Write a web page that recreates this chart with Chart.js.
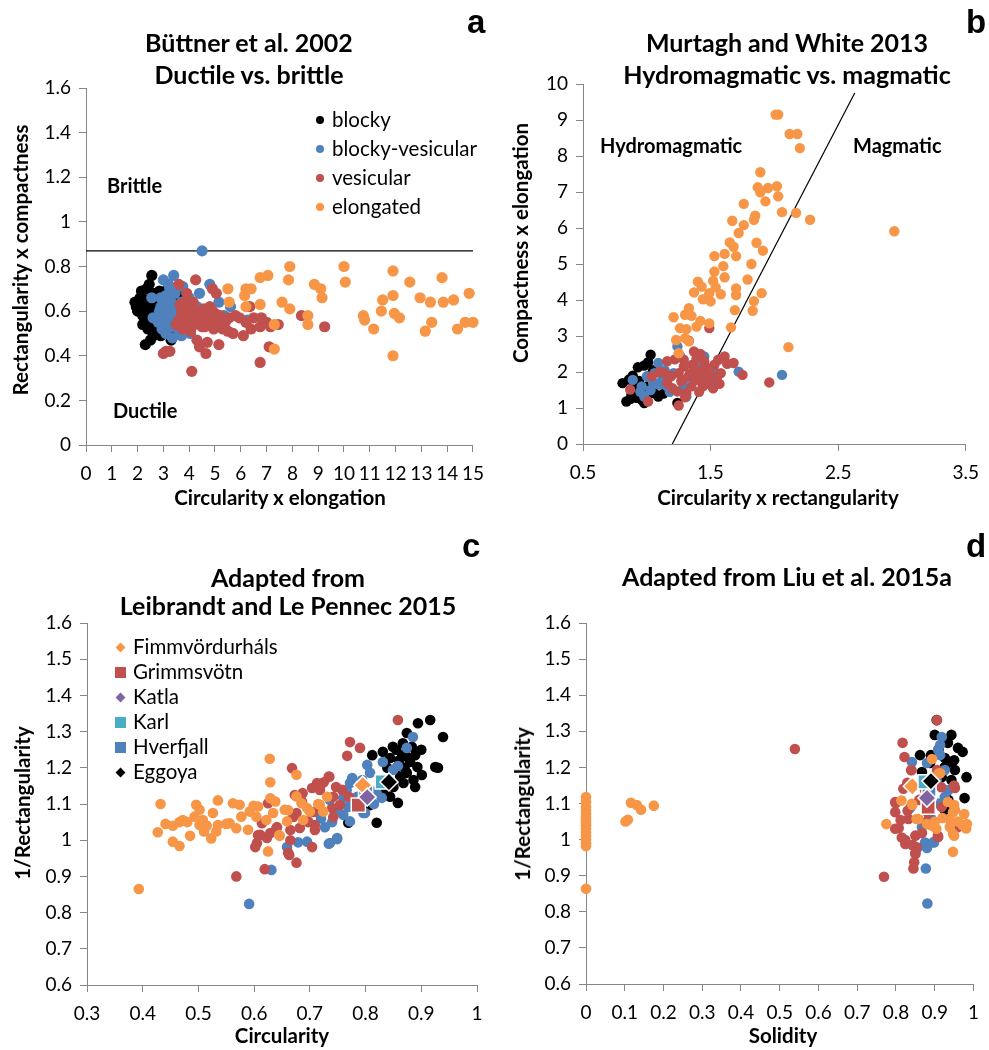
<!DOCTYPE html>
<html>
<head>
<meta charset="utf-8">
<script src="https://cdn.jsdelivr.net/npm/chart.js@4.4.1/dist/chart.umd.min.js"></script>
<style>
  body { margin: 0; background: #fff; width: 989px; height: 1050px; position: relative; overflow: hidden; font-family: Lato, sans-serif; color: #000; }
  canvas { position: absolute; }
  .ttl { position: absolute; font-weight: bold; font-size: 25px; text-align: center; white-space: nowrap; transform: translateX(-50%); }
  .note { position: absolute; font-weight: bold; font-size: 20px; line-height: 24px; white-space: nowrap; }
  .xt { position: absolute; font-weight: bold; font-size: 20.5px; line-height: 24px; white-space: nowrap; transform: translateX(-50%); }
  .yt { position: absolute; font-weight: bold; font-size: 20.5px; line-height: 24px; white-space: nowrap; transform: translate(-50%, -50%) rotate(-90deg); }
  .letter { position: absolute; font-family: "Liberation Sans", Arial, sans-serif; font-weight: bold; font-size: 33px; line-height: 33px; }
  .lg { position: absolute; font-size: 20.5px; line-height: 24px; white-space: nowrap; }
  .mk { position: absolute; }
</style>
</head>
<body>
<canvas id="chartA"></canvas>
<canvas id="chartB"></canvas>
<canvas id="chartC"></canvas>
<canvas id="chartD"></canvas>

<div class="ttl" style="left:249px;top:26px;line-height:32px">Büttner et al. 2002<br>Ductile vs. brittle</div>
<div class="ttl" style="left:787px;top:26px;line-height:32px">Murtagh and White 2013<br>Hydromagmatic vs. magmatic</div>
<div class="ttl" style="left:288px;top:563px;line-height:28px">Adapted from<br>Leibrandt and Le Pennec 2015</div>
<div class="ttl" style="left:787px;top:562px;line-height:28px">Adapted from Liu et al. 2015a</div>

<div class="letter" style="left:467px;top:5px">a</div>
<div class="letter" style="left:966px;top:5px">b</div>
<div class="letter" style="left:462px;top:529px">c</div>
<div class="letter" style="left:966px;top:529px">d</div>

<div class="note" style="left:107px;top:173px">Brittle</div>
<div class="note" style="left:113px;top:398px">Ductile</div>
<div class="note" style="left:600px;top:133px">Hydromagmatic</div>
<div class="note" style="left:853px;top:133px">Magmatic</div>

<div class="xt" style="left:280px;top:485px">Circularity x elongation</div>
<div class="xt" style="left:778px;top:485px">Circularity x rectangularity</div>
<div class="xt" style="left:282px;top:1023px">Circularity</div>
<div class="xt" style="left:783px;top:1023px">Solidity</div>
<div class="yt" style="left:20px;top:260px">Rectangularity x compactness</div>
<div class="yt" style="left:520px;top:243px">Compactness x elongation</div>
<div class="yt" style="left:22px;top:803px">1/Rectangularity</div>
<div class="yt" style="left:522px;top:804px">1/Rectangularity</div>

<div id="legendA"></div>
<div id="legendC"></div>

<script>
// --- Colours (Excel 2007 palette) ---
const ORANGE = '#F79646', RED = '#C0504D', BLUE = '#4F81BD', BLACK = '#000000', PURPLE = '#8064A2', CYAN = '#4BACC6';

// --- Panel a: Büttner et al. 2002 (circularity x elongation, rectangularity x compactness) ---
const aNames = ['blocky', 'blocky-vesicular', 'vesicular', 'elongated'];
const aBlocky = [[1.9,0.64],[1.95,0.62],[2.0,0.60],[2.1,0.66],[2.15,0.69],[2.2,0.58],[2.2,0.54],[2.25,0.63],[2.3,0.45],[2.3,0.56],[2.35,0.65],[2.4,0.52],[2.4,0.59],[2.45,0.72],[2.5,0.47],[2.5,0.61],[2.55,0.76],[2.55,0.56],[2.6,0.68],[2.6,0.49],[2.65,0.53],[2.7,0.65],[2.7,0.58],[2.75,0.62],[2.8,0.51],[2.85,0.69],[2.9,0.49],[2.9,0.56],[2.95,0.61],[3.0,0.67],[3.05,0.53],[3.1,0.69],[3.2,0.50],[3.3,0.47],[3.4,0.66],[2.35,0.70],[2.15,0.61],[2.45,0.54],[2.6,0.63],[2.8,0.57],[3.6,0.67]];
const aBlockyVes = [[2.55,0.66],[2.6,0.57],[2.8,0.55],[2.85,0.60],[2.9,0.66],[2.95,0.52],[3.0,0.74],[3.0,0.58],[3.05,0.63],[3.1,0.50],[3.1,0.67],[3.15,0.55],[3.2,0.61],[3.25,0.70],[3.3,0.53],[3.3,0.64],[3.35,0.48],[3.4,0.76],[3.4,0.58],[3.45,0.68],[3.5,0.55],[3.55,0.61],[3.6,0.50],[3.7,0.49],[3.7,0.64],[3.75,0.71],[3.8,0.57],[3.9,0.53],[4.0,0.66],[4.05,0.50],[4.1,0.60],[4.2,0.55],[4.3,0.62],[4.4,0.68],[4.5,0.87],[4.6,0.58],[4.8,0.72],[4.9,0.55],[5.15,0.64],[5.35,0.58],[5.6,0.62],[6.25,0.56],[3.2,0.72],[2.9,0.62]];
const aVesicular = [[3.0,0.41],[3.1,0.42],[3.25,0.42],[3.5,0.54],[3.6,0.72],[3.6,0.56],[3.7,0.60],[3.75,0.52],[3.8,0.58],[3.85,0.64],[3.9,0.68],[3.95,0.55],[4.0,0.60],[4.05,0.51],[4.1,0.33],[4.1,0.57],[4.15,0.64],[4.2,0.54],[4.25,0.74],[4.25,0.60],[4.3,0.47],[4.35,0.56],[4.4,0.44],[4.45,0.58],[4.5,0.53],[4.55,0.61],[4.6,0.56],[4.65,0.41],[4.7,0.46],[4.7,0.59],[4.75,0.54],[4.8,0.62],[4.85,0.57],[4.9,0.70],[4.95,0.52],[5.0,0.59],[5.05,0.68],[5.1,0.55],[5.15,0.45],[5.2,0.58],[5.3,0.52],[5.4,0.55],[5.5,0.51],[5.55,0.57],[5.7,0.50],[5.8,0.58],[5.95,0.57],[6.1,0.49],[6.2,0.55],[6.35,0.62],[6.4,0.52],[6.5,0.57],[6.75,0.37],[6.75,0.53],[6.8,0.57],[7.0,0.55],[7.1,0.44],[7.15,0.53],[7.45,0.54],[8.35,0.58],[9.25,0.53],[3.65,0.63],[4.0,0.56],[4.4,0.60],[4.6,0.53],[3.8,0.54],[4.9,0.60]];
const aElongated = [[5.5,0.70],[5.55,0.64],[6.15,0.67],[6.2,0.70],[6.2,0.62],[6.4,0.70],[6.75,0.75],[6.75,0.63],[7.05,0.76],[7.3,0.54],[7.3,0.43],[7.6,0.64],[7.85,0.74],[7.9,0.80],[7.9,0.61],[8.6,0.58],[8.6,0.54],[8.85,0.72],[9.1,0.70],[9.15,0.66],[10.0,0.80],[10.05,0.73],[10.75,0.58],[10.8,0.56],[11.15,0.52],[11.45,0.60],[11.5,0.65],[11.9,0.78],[11.9,0.67],[11.95,0.59],[12.15,0.57],[11.9,0.40],[12.55,0.73],[12.95,0.66],[13.35,0.64],[13.15,0.51],[13.4,0.55],[13.8,0.75],[13.85,0.64],[14.25,0.65],[14.4,0.52],[14.7,0.55],[14.85,0.68],[15.0,0.55]];
const aThreshold = [[0, 0.87], [15, 0.87]];

// --- Panel b: Murtagh and White 2013 ---
const bBlocky = [[0.81,1.69],[0.84,1.18],[0.86,1.79],[0.88,1.37],[0.89,1.9],[0.91,1.6],[0.92,1.28],[0.93,2.13],[0.95,1.46],[0.96,1.23],[0.98,2.18],[0.98,1.14],[1.0,1.6],[1.01,2.27],[1.02,1.9],[1.03,2.48],[1.06,1.41],[1.09,1.32],[1.13,1.40],[1.24,1.14],[0.9,1.5],[0.94,1.75],[1.05,2.05],[0.87,1.25],[1.0,1.3]];
const bBlockyVes = [[0.89,1.78],[0.96,1.6],[0.98,1.32],[1.0,1.88],[1.03,1.5],[1.06,1.97],[1.09,2.25],[1.1,1.65],[1.12,1.78],[1.14,2.05],[1.16,1.6],[1.18,1.45],[1.21,1.97],[1.24,2.71],[1.26,2.45],[1.28,1.69],[1.29,1.6],[1.31,1.32],[1.33,1.85],[1.36,2.2],[1.39,2.15],[1.42,1.75],[1.44,1.88],[1.45,2.43],[1.5,1.65],[1.52,1.78],[1.54,1.97],[1.72,2.01],[2.06,1.92],[1.05,1.7],[0.95,1.45]];
const bVesicular = [[0.87,1.51],[1.01,1.18],[1.04,1.88],[1.1,2.0],[1.14,1.97],[1.16,2.3],[1.16,1.69],[1.19,1.88],[1.2,1.55],[1.22,2.35],[1.24,1.46],[1.25,1.07],[1.25,1.97],[1.27,1.75],[1.28,1.78],[1.29,2.34],[1.29,2.15],[1.31,1.41],[1.33,2.87],[1.33,1.9],[1.34,1.97],[1.35,1.6],[1.36,2.2],[1.37,2.57],[1.38,1.8],[1.39,2.38],[1.39,2.06],[1.4,1.78],[1.42,2.5],[1.43,1.95],[1.44,1.6],[1.45,2.3],[1.46,2.15],[1.47,1.7],[1.49,1.97],[1.49,3.22],[1.5,1.83],[1.52,1.55],[1.53,2.2],[1.55,1.85],[1.56,2.34],[1.57,1.67],[1.58,1.97],[1.61,2.43],[1.63,2.23],[1.68,2.25],[1.75,1.92],[1.96,1.71],[1.3,1.3],[1.41,1.45]];
const bElongated = [[2.01,9.15],[2.03,9.15],[2.12,8.61],[2.18,8.61],[2.2,8.22],[1.89,7.55],[1.87,7.13],[1.95,7.11],[2.02,7.16],[1.89,6.99],[1.93,6.74],[2.03,6.88],[1.76,6.67],[1.85,6.34],[1.84,6.23],[2.06,6.44],[2.17,6.42],[2.28,6.23],[2.94,5.91],[1.67,6.2],[1.76,6.08],[1.72,5.86],[1.65,5.6],[1.68,5.48],[1.86,5.59],[1.91,5.37],[1.53,5.22],[1.61,5.28],[1.7,5.22],[1.82,5.0],[1.6,4.94],[1.53,4.79],[1.61,4.63],[1.52,4.53],[1.79,4.57],[1.4,4.51],[1.43,4.37],[1.7,4.32],[1.9,4.19],[1.54,4.35],[1.37,4.21],[1.49,4.19],[1.58,4.16],[1.44,4.02],[1.5,3.96],[1.7,4.14],[1.84,3.97],[1.69,3.72],[1.83,3.7],[1.21,3.52],[1.33,3.77],[1.3,3.59],[1.35,3.56],[1.42,3.42],[1.49,3.35],[1.39,3.26],[1.26,3.22],[1.31,3.19],[1.66,3.24],[1.23,2.89],[1.3,2.94],[1.33,2.85],[2.11,2.69],[1.25,2.52]];
const bBoundary = [[1.2, 0], [2.63, 9.75]];

// --- Panels c, d: volcano samples ---
const cdNames = ['Fimmvördurháls', 'Grimmsvötn', 'Katla', 'Karl', 'Hverfjall', 'Eggoya'];
const cFimm = [[0.393,0.865],[0.432,1.1],[0.427,1.022],[0.441,1.045],[0.454,1.04],[0.454,0.996],[0.466,0.984],[0.466,1.05],[0.472,1.056],[0.485,1.012],[0.496,1.098],[0.493,1.065],[0.502,1.084],[0.508,1.056],[0.502,1.042],[0.51,1.024],[0.523,1.005],[0.526,1.075],[0.535,1.11],[0.535,1.042],[0.532,1.024],[0.562,1.102],[0.574,1.098],[0.556,1.047],[0.568,1.033],[0.577,1.065],[0.589,1.029],[0.592,1.079],[0.599,1.095],[0.607,1.093],[0.604,1.065],[0.622,1.056],[0.625,0.969],[0.628,1.225],[0.629,1.16],[0.629,1.116],[0.638,1.107],[0.634,1.075],[0.646,1.012],[0.655,1.084],[0.659,1.052],[0.676,1.181],[0.676,1.121],[0.685,1.102],[0.688,1.056],[0.7,1.079],[0.718,1.098],[0.724,1.079],[0.731,1.12],[0.715,1.1],[0.695,1.089],[0.661,1.083],[0.645,1.014],[0.48,1.05],[0.515,1.04],[0.55,1.045]];
const cGrim = [[0.858,1.332],[0.772,1.271],[0.79,1.255],[0.767,1.233],[0.668,1.199],[0.735,1.175],[0.713,1.158],[0.704,1.144],[0.718,1.139],[0.747,1.147],[0.758,1.139],[0.742,1.12],[0.673,1.125],[0.686,1.106],[0.754,1.097],[0.74,1.089],[0.706,1.078],[0.67,1.064],[0.697,1.05],[0.709,1.042],[0.682,1.034],[0.665,1.028],[0.641,1.036],[0.629,1.02],[0.614,1.047],[0.607,1.014],[0.605,0.992],[0.623,1.006],[0.602,0.981],[0.665,1.0],[0.661,0.965],[0.704,0.981],[0.742,1.064],[0.568,0.9],[0.619,0.92],[0.676,0.938],[0.663,0.959],[0.625,1.102],[0.687,1.13],[0.734,1.176],[0.718,1.148],[0.676,1.075],[0.697,1.052],[0.709,1.028],[0.64,1.033],[0.611,1.015],[0.77,1.12],[0.725,1.16]];
const cHver = [[0.591,0.824],[0.631,0.918],[0.659,0.981],[0.679,0.994],[0.695,0.996],[0.734,0.99],[0.749,1.006],[0.772,1.052],[0.796,1.075],[0.885,1.285],[0.874,1.255],[0.831,1.216],[0.803,1.208],[0.858,1.205],[0.849,1.194],[0.776,1.172],[0.808,1.139],[0.82,1.13],[0.829,1.117],[0.766,1.139],[0.76,1.117],[0.769,1.092],[0.76,1.07],[0.799,1.075],[0.74,1.05],[0.727,1.036],[0.736,0.992],[0.749,1.003],[0.713,1.078],[0.736,1.111],[0.772,1.158],[0.794,1.166],[0.808,1.186],[0.785,1.12],[0.815,1.1],[0.75,1.08],[0.72,1.06]];
const cEgg = [[0.916,1.332],[0.894,1.323],[0.939,1.285],[0.874,1.296],[0.812,1.235],[0.831,1.244],[0.849,1.258],[0.867,1.268],[0.883,1.258],[0.889,1.235],[0.866,1.235],[0.844,1.227],[0.88,1.216],[0.893,1.202],[0.857,1.202],[0.839,1.2],[0.874,1.186],[0.901,1.18],[0.925,1.202],[0.93,1.2],[0.886,1.166],[0.868,1.158],[0.889,1.147],[0.85,1.147],[0.844,1.12],[0.858,1.103],[0.808,1.097],[0.82,1.048],[0.769,1.048],[0.835,1.13],[0.862,1.175],[0.855,1.25],[0.875,1.23],[0.86,1.22],[0.9,1.25],[0.87,1.2]];
// means, in cdNames order
const cMeans = [[0.795,1.152],[0.787,1.097],[0.803,1.119],[0.83,1.161],[0.8,1.13],[0.842,1.161]];

const dFimm = [[0,1.118],[0,1.104],[0,1.09],[0,1.08],[0,1.071],[0,1.062],[0,1.055],[0,1.048],[0,1.04],[0,1.03],[0,1.02],[0,1.01],[0,1.0],[0,0.99],[0,0.982],[0,0.864],[0.102,1.05],[0.108,1.055],[0.116,1.102],[0.131,1.096],[0.142,1.083],[0.175,1.094],[0.775,1.043],[0.814,1.108],[0.841,1.099],[0.853,1.057],[0.91,1.183],[0.893,1.223],[0.892,1.039],[0.904,1.03],[0.934,1.104],[0.95,1.096],[0.947,1.076],[0.938,1.057],[0.976,1.071],[0.983,1.043],[0.981,1.031],[0.947,1.016],[0.95,1.011],[0.947,0.966],[0.952,1.082],[0.858,1.057],[0.88,1.043],[0.9,1.049],[0.939,1.035],[0.972,1.04],[0.914,1.184],[0.842,1.096],[0.92,1.06],[0.96,1.05]];
const dGrim = [[0.539,1.251],[0.906,1.331],[0.817,1.268],[0.822,1.229],[0.84,1.193],[0.769,0.897],[0.845,0.92],[0.847,0.937],[0.85,0.96],[0.853,0.979],[0.824,0.988],[0.815,1.006],[0.798,1.03],[0.798,1.104],[0.798,1.076],[0.819,1.141],[0.832,1.057],[0.85,1.011],[0.875,1.048],[0.908,1.011],[0.917,1.145],[0.959,1.034],[0.95,1.15],[0.839,1.192],[0.829,1.157],[0.799,1.101],[0.812,1.054],[0.807,1.032],[0.824,0.999],[0.842,0.985],[0.85,0.962],[0.952,1.143],[0.906,1.193],[0.875,1.137],[0.918,1.09],[0.883,1.073],[0.964,1.04],[0.867,1.018],[0.909,1.007],[0.86,1.11],[0.83,1.08]];
const dHver = [[0.881,0.823],[0.877,0.92],[0.845,0.983],[0.875,0.992],[0.898,0.992],[0.918,1.284],[0.914,1.262],[0.909,1.248],[0.841,1.215],[0.88,1.212],[0.926,1.193],[0.905,1.165],[0.935,1.137],[0.926,1.118],[0.837,1.088],[0.867,1.035],[0.897,0.993],[0.88,0.977],[0.855,0.977],[0.914,1.234],[0.89,1.06],[0.91,1.1]];
const dEgg = [[0.905,1.331],[0.9,1.29],[0.943,1.29],[0.934,1.268],[0.96,1.254],[0.972,1.243],[0.862,1.234],[0.89,1.234],[0.926,1.226],[0.888,1.212],[0.939,1.215],[0.926,1.201],[0.952,1.193],[0.867,1.187],[0.918,1.173],[0.982,1.173],[0.943,1.165],[0.935,1.11],[0.977,1.115],[0.926,1.082],[0.943,1.04],[0.91,1.25],[0.95,1.22]];
const dMeans = [[0.842,1.148],[0.883,1.09],[0.88,1.115],[0.875,1.16],[0.885,1.13],[0.89,1.162]];

const cdColors = [ORANGE, RED, PURPLE, CYAN, BLUE, BLACK];
const cdShapes = ['rectRot', 'rect', 'rectRot', 'rect', 'rect', 'rectRot'];
const aColors = [BLACK, BLUE, RED, ORANGE];

// --- helpers ---
const xy = pts => pts.map(p => ({ x: p[0], y: p[1] }));

function dots(pts, color, r) {
  return { data: xy(pts), backgroundColor: color, borderColor: color, borderWidth: 0,
    pointRadius: r, pointHoverRadius: r, clip: false };
}

function line(pts) {
  return { data: xy(pts), showLine: true, borderColor: '#000', borderWidth: 1.2,
    pointRadius: 0, pointHoverRadius: 0, fill: false };
}

function means(pts) {
  // top-most first: Eggoya, Karl, Katla, Fimm, Grimm, Hverfjall
  return [5, 3, 2, 0, 1, 4].map(i => ({
    data: xy([pts[i]]), pointStyle: cdShapes[i], backgroundColor: cdColors[i],
    borderColor: '#fff', borderWidth: 1.5,
    pointRadius: cdShapes[i] === 'rect' ? 10 : 9, pointHoverRadius: 9, clip: false
  }));
}

function axis(min, max, step, pad, fit) {
  return {
    type: 'linear', min, max,
    ticks: { stepSize: step, autoSkip: false, maxRotation: 0, padding: pad, color: '#000',
      font: { family: 'Lato', size: 19 }, callback: v => String(+v.toFixed(2)) },
    grid: { drawOnChartArea: false, drawTicks: true, tickLength: 7, color: '#868686' },
    border: { color: '#868686', width: 1 },
    afterFit: fit
  };
}

// box = canvas rect on the page, area = wanted plot area on the page
function panel(id, box, area, xr, yr, datasets) {
  const cv = document.getElementById(id);
  cv.width = box.w; cv.height = box.h;
  cv.style.left = box.l + 'px'; cv.style.top = box.t + 'px';
  cv.style.width = box.w + 'px'; cv.style.height = box.h + 'px';
  const yw = area.l - box.l;
  const xh = box.t + box.h - area.b;
  new Chart(cv, {
    type: 'scatter',
    data: { datasets },
    options: {
      responsive: false, animation: false, devicePixelRatio: 1,
      layout: { padding: { left: 0, bottom: 0, top: area.t - box.t, right: box.l + box.w - area.r } },
      plugins: { legend: { display: false }, tooltip: { enabled: false } },
      scales: {
        x: axis(xr[0], xr[1], xr[2], 10, s => { s.height = xh; }),
        y: axis(yr[0], yr[1], yr[2], 8, s => { s.width = yw; })
      }
    }
  });
}

// panel a
panel('chartA', { l: 0, t: 0, w: 494, h: 520 }, { l: 86, t: 88, r: 474, b: 445 },
  [0, 15, 1], [0, 1.6, 0.2],
  [dots(aElongated, ORANGE, 5.6), dots(aVesicular, RED, 5.6), dots(aBlockyVes, BLUE, 5.6),
   dots(aBlocky, BLACK, 5.6), line(aThreshold)]);

// panel b
panel('chartB', { l: 494, t: 0, w: 495, h: 520 }, { l: 583, t: 84, r: 974, b: 444 },
  [0.5, 3.5, 1], [0, 10, 1],
  [dots(bElongated, ORANGE, 5.2), dots(bVesicular, RED, 5.2), dots(bBlockyVes, BLUE, 5.2),
   dots(bBlocky, BLACK, 5.2), line(bBoundary)]);

// panel c
panel('chartC', { l: 0, t: 520, w: 494, h: 530 }, { l: 87, t: 623, r: 477, b: 985 },
  [0.3, 1, 0.1], [0.6, 1.6, 0.1],
  [...means(cMeans), dots(cFimm, ORANGE, 5.3), dots(cGrim, RED, 5.3), dots(cHver, BLUE, 5.3), dots(cEgg, BLACK, 5.3)]);

// panel d
panel('chartD', { l: 494, t: 520, w: 495, h: 530 }, { l: 586, t: 623, r: 979, b: 984 },
  [0, 1, 0.1], [0.6, 1.6, 0.1],
  [...means(dMeans), dots(dFimm, ORANGE, 5.3), dots(dGrim, RED, 5.3), dots(dHver, BLUE, 5.3), dots(dEgg, BLACK, 5.3)]);

// --- HTML legends ---
const legA = document.getElementById('legendA');
aNames.forEach((name, i) => {
  const y = 120 + i * 29;
  legA.insertAdjacentHTML('beforeend',
    `<div class="mk" style="left:${316}px;top:${y - 4}px;width:8px;height:8px;border-radius:50%;background:${aColors[i]}"></div>` +
    `<div class="lg" style="left:332px;top:${y - 13}px">${name}</div>`);
});

const legC = document.getElementById('legendC');
cdNames.forEach((name, i) => {
  const y = 647 + i * 25;
  const sq = cdShapes[i] === 'rect';
  const s = sq ? 11 : 7;
  legC.insertAdjacentHTML('beforeend',
    `<div class="mk" style="left:${120 - s / 2}px;top:${y - s / 2}px;width:${s}px;height:${s}px;background:${cdColors[i]};${sq ? '' : 'transform:rotate(45deg);'}"></div>` +
    `<div class="lg" style="left:133px;top:${y - 13}px">${name}</div>`);
});
</script>
</body>
</html>
